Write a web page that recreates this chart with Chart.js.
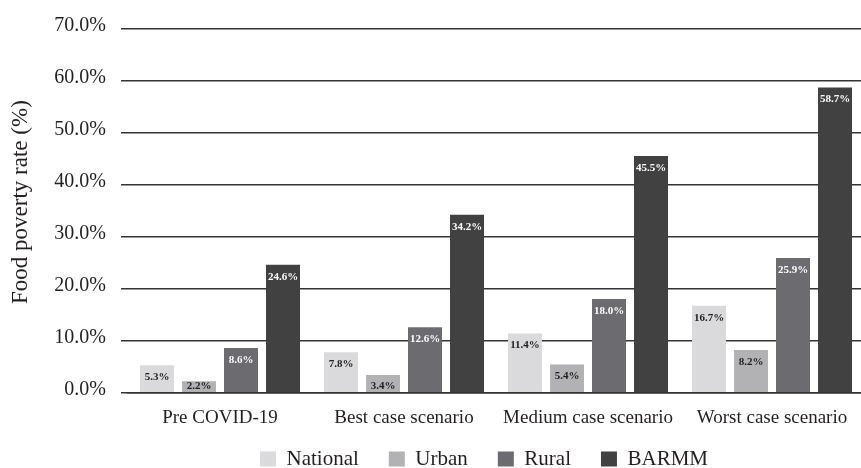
<!DOCTYPE html>
<html>
<head>
<meta charset="utf-8">
<script src="https://cdn.jsdelivr.net/npm/chart.js@4.4.1/dist/chart.umd.min.js"></script>
<style>
  html, body { margin: 0; padding: 0; background: #fff; overflow: hidden; width: 861px; height: 468px; }
  #wrap { width: 870px; height: 468px; }
</style>
</head>
<body>
<div id="wrap"><canvas id="chart" width="870" height="468"></canvas></div>
<script>
// Food poverty rate by scenario (%)
const scenarios = ['Pre COVID-19', 'Best case scenario', 'Medium case scenario', 'Worst case scenario'];
const seriesNames = ['National', 'Urban', 'Rural', 'BARMM'];
const national = [5.3, 7.8, 11.4, 16.7];
const urban    = [2.2, 3.4, 5.4, 8.2];
const rural    = [8.6, 12.6, 18.0, 25.9];
const barmm    = [24.6, 34.2, 45.5, 58.7];
const yTicks   = [0, 10, 20, 30, 40, 50, 60, 70];

// styling
const seriesColors = ['#dadadc', '#b2b2b5', '#6c6b70', '#414141'];
const labelInk = ['#1e1e1e', '#1e1e1e', '#ffffff', '#ffffff'];
const serif = '"Liberation Serif", "Times New Roman", serif';
const ink = '#231f20';

const seriesValues = [national, urban, rural, barmm];

// value printed near the top of each bar
const valueLabels = {
  id: 'valueLabels',
  afterDatasetsDraw(chart) {
    const ctx = chart.ctx;
    ctx.save();
    ctx.font = 'bold 11px ' + serif;
    ctx.textAlign = 'center';
    ctx.textBaseline = 'middle';
    chart.data.datasets.forEach((ds, i) => {
      const meta = chart.getDatasetMeta(i);
      meta.data.forEach((bar, j) => {
        const y = Math.min(bar.y + 12, bar.base - 6);
        ctx.fillStyle = labelInk[i];
        ctx.fillText(ds.data[j].toFixed(1) + '%', bar.x, y);
      });
    });
    ctx.restore();
  }
};

// place the legend row under the category labels
const legendPlacement = {
  id: 'legendPlacement',
  afterLayout(chart) {
    const lg = chart.legend;
    const dx = 484 - (lg.left + lg.right) / 2;
    lg.left += dx;
    lg.right += dx;
    lg.top = 418.5;
    lg.bottom = chart.height;
  }
};

new Chart(document.getElementById('chart'), {
  type: 'bar',
  data: {
    labels: scenarios,
    datasets: seriesNames.map((name, i) => ({
      label: name,
      data: seriesValues[i],
      backgroundColor: seriesColors[i],
      borderWidth: 0,
      categoryPercentage: 168 / 184,
      barPercentage: 34 / 42
    }))
  },
  options: {
    responsive: false,
    animation: false,
    layout: { padding: { top: 28.7, right: 6, bottom: 0, left: 0 } },
    plugins: {
      legend: {
        position: 'bottom',
        maxHeight: 40,
        labels: {
          boxWidth: 16,
          boxHeight: 15,
          padding: 30,
          color: ink,
          font: { family: serif, size: 21 }
        }
      },
      tooltip: { enabled: false }
    },
    scales: {
      x: {
        grid: { display: false },
        border: { display: true, color: '#333333', width: 1.5, z: 1 },
        ticks: { color: ink, font: { family: serif, size: 19 }, padding: 6 },
        afterFit(scale) { scale.height = 35.3; }
      },
      y: {
        min: 0,
        max: 70,
        afterBuildTicks(scale) { scale.ticks = yTicks.map(v => ({ value: v })); },
        grid: { color: '#333333', lineWidth: 1.5, drawTicks: true, tickLength: 7 },
        border: { display: false },
        ticks: {
          color: ink,
          font: { family: serif, size: 20 },
          padding: 15,
          labelOffset: -2.5,
          callback: v => v.toFixed(1) + '%'
        },
        title: {
          display: true,
          text: '   Food poverty rate (%)',
          color: ink,
          font: { family: serif, size: 23 },
          padding: { top: 7, bottom: 0 }
        },
        afterFit(scale) { scale.width = 128; }
      }
    }
  },
  plugins: [valueLabels, legendPlacement]
});
</script>
</body>
</html>
